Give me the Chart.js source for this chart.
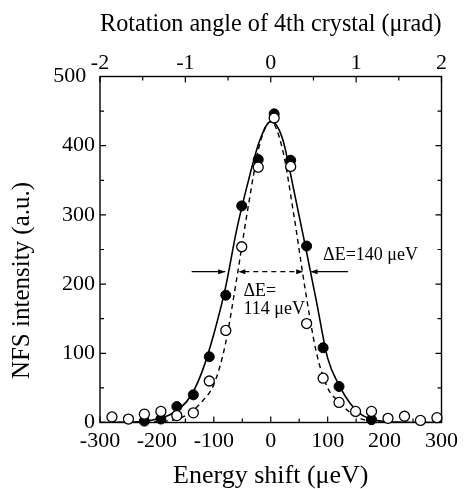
<!DOCTYPE html>
<html>
<head>
<meta charset="utf-8">
<script src="https://cdn.jsdelivr.net/npm/chart.js@4.4.0/dist/chart.umd.min.js"></script>
<style>
  html, body { margin: 0; padding: 0; background: #fff; }
  #wrap { width: 464px; height: 489px; }
</style>
</head>
<body>
<div id="wrap"><canvas id="c" width="464" height="489"></canvas></div>
<script>
// energy grid for the fitted curves (μeV)
const energyGrid = [-300, -280, -260, -240, -220, -200, -180, -160, -140, -120, -100, -80, -60, -40, -20,
  0, 20, 40, 60, 80, 100, 120, 140, 160, 180, 200, 220, 240, 260, 280, 300];
// solid fit (ΔE=140 μeV)
const solidFit = [0, 0, 0.3, 0.7, 2, 5, 10, 20, 39, 75, 128, 193, 278, 347, 406,
  435, 412, 338, 258, 176, 93, 54, 27, 11, 4, 1.5, 0.5, 0, 0, 0, 0];
// dashed fit (ΔE=114 μeV)
const dashedFit = [0, 0, 0, 0, 0.5, 1, 2.5, 6, 15, 31, 55, 112, 207, 310, 400,
  435, 397, 303, 195, 102, 50, 30, 14, 5, 1.5, 0.5, 0, 0, 0, 0, 0];

// measured points
const filledX = [-222, -193, -165, -136, -108, -79, -51, -22, 6, 35, 63, 92, 120, 177];
const filledY = [2, 5, 23, 40, 95, 184, 313, 380, 446, 379, 255, 108, 52, 4];
const openX = [-279, -250, -222, -193, -165, -136, -108, -79, -51, -22, 6, 35, 63, 92, 120, 149, 177, 206, 235, 263, 292];
const openY = [8, 5, 12, 16, 10, 14, 60, 133, 254, 369, 440, 370, 143, 64, 29, 16, 16, 6, 9, 3, 7];

// top axis range (μrad)
const angleMin = -2, angleMax = 2;

// width markers (data coords)
const markerY = 218;
const solidArrowLeft = [-139, -80];
const solidArrowRight = [136, 70];
const dashedArrow = [-57, 57];
const labelWide = { x: 92, y: 242, text: "ΔE=140 μeV" };
const labelNarrow = [{ x: -48, y: 189, text: "ΔE=" }, { x: -48, y: 163, text: "114 μeV" }];
const yTitle = "NFS intensity (a.u.)";

const serif = "'Liberation Serif', 'Times New Roman', serif";
const tickFont = { family: serif, size: 22 };
const titleFont = { family: serif, size: 26, lineHeight: 1 };

const toXY = (xs, ys) => xs.map((x, i) => ({ x, y: ys[i] }));

// frame, inward ticks, y title and the ΔE markers
const framePlugin = {
  id: "frame",
  beforeDatasetsDraw(chart) {
    const { ctx, chartArea: a, scales } = chart;
    ctx.save();
    ctx.strokeStyle = "#000";
    ctx.lineWidth = 1.4;
    ctx.strokeRect(a.left, a.top, a.right - a.left, a.bottom - a.top);
    ctx.lineWidth = 1.2;
    const tickSet = (scale) => {
      const vals = scale.ticks.map(t => t.value);
      const out = [];
      vals.forEach((v, i) => {
        out.push({ p: scale.getPixelForValue(v), major: true });
        if (i < vals.length - 1) out.push({ p: scale.getPixelForValue((v + vals[i + 1]) / 2), major: false });
      });
      return out;
    };
    ctx.beginPath();
    tickSet(scales.x).forEach(t => {
      const l = t.major ? 6 : 4;
      ctx.moveTo(t.p, a.bottom); ctx.lineTo(t.p, a.bottom - l);
    });
    tickSet(scales.xTop).forEach(t => {
      const l = t.major ? 6 : 4;
      ctx.moveTo(t.p, a.top); ctx.lineTo(t.p, a.top + l);
    });
    tickSet(scales.y).forEach(t => {
      const l = t.major ? 6 : 4;
      ctx.moveTo(a.left, t.p); ctx.lineTo(a.left + l, t.p);
      ctx.moveTo(a.right, t.p); ctx.lineTo(a.right - l, t.p);
    });
    ctx.stroke();

    // y axis title, sits a bit below the middle like the original
    ctx.save();
    ctx.translate(22, (a.top + a.bottom) / 2 + 31);
    ctx.rotate(-Math.PI / 2);
    ctx.font = "25px " + serif;
    ctx.fillStyle = "#000";
    ctx.textAlign = "center";
    ctx.textBaseline = "middle";
    ctx.fillText(yTitle, 0, 0);
    ctx.restore();

    // ΔE markers
    const xs = scales.x, ys = scales.y;
    const yy = ys.getPixelForValue(markerY);
    const head = (tip, dir) => {
      ctx.beginPath();
      ctx.moveTo(tip, yy);
      ctx.lineTo(tip - dir * 7, yy - 2.5);
      ctx.lineTo(tip - dir * 7, yy + 2.5);
      ctx.closePath();
      ctx.fill();
    };
    ctx.fillStyle = "#000";
    ctx.lineWidth = 1.2;
    [solidArrowLeft, solidArrowRight].forEach(([from, to]) => {
      const p0 = xs.getPixelForValue(from), p1 = xs.getPixelForValue(to);
      ctx.beginPath(); ctx.moveTo(p0, yy); ctx.lineTo(p1, yy); ctx.stroke();
      head(p1, Math.sign(p1 - p0));
    });
    const d0 = xs.getPixelForValue(dashedArrow[0]), d1 = xs.getPixelForValue(dashedArrow[1]);
    ctx.setLineDash([5, 4]);
    ctx.beginPath(); ctx.moveTo(d0 + 6, yy); ctx.lineTo(d1 - 6, yy); ctx.stroke();
    ctx.setLineDash([]);
    head(d0, -1); head(d1, 1);

    ctx.font = "18px " + serif;
    ctx.textBaseline = "middle";
    ctx.textAlign = "left";
    [labelWide, ...labelNarrow].forEach(l => {
      ctx.fillText(l.text, xs.getPixelForValue(l.x), ys.getPixelForValue(l.y));
    });
    ctx.restore();
  }
};

new Chart(document.getElementById("c"), {
  type: "line",
  data: {
    datasets: [
      {
        label: "open",
        data: toXY(openX, openY),
        showLine: false,
        pointRadius: 5,
        pointBackgroundColor: "#fff",
        pointBorderColor: "#000",
        pointBorderWidth: 1.3,
        clip: false
      },
      {
        label: "filled",
        data: toXY(filledX, filledY),
        showLine: false,
        pointRadius: 5,
        pointBackgroundColor: "#000",
        pointBorderColor: "#000",
        pointBorderWidth: 1,
        clip: false
      },
      {
        label: "fit 140",
        data: toXY(energyGrid, solidFit),
        borderColor: "#000",
        borderWidth: 1.6,
        pointRadius: 0,
        cubicInterpolationMode: "monotone",
        fill: false
      },
      {
        label: "fit 114",
        data: toXY(energyGrid, dashedFit),
        borderColor: "#000",
        borderWidth: 1.4,
        borderDash: [5, 4],
        pointRadius: 0,
        cubicInterpolationMode: "monotone",
        fill: false
      }
    ]
  },
  options: {
    responsive: false,
    animation: false,
    layout: { padding: 0 },
    plugins: { legend: { display: false }, tooltip: { enabled: false } },
    scales: {
      x: {
        type: "linear", position: "bottom", min: -300, max: 300,
        grid: { display: false, drawTicks: false }, border: { display: false },
        ticks: { stepSize: 100, font: tickFont, color: "#000", padding: 6, maxRotation: 0 },
        title: { display: true, text: "Energy shift (μeV)", font: titleFont, color: "#000", padding: { top: 0, bottom: 0 } },
        afterFit: s => { s.height = 66.5; }
      },
      xTop: {
        type: "linear", position: "top", min: angleMin, max: angleMax,
        grid: { display: false, drawTicks: false }, border: { display: false },
        ticks: { stepSize: 1, font: tickFont, color: "#000", padding: 0, maxRotation: 0 },
        title: { display: true, text: "Rotation angle of 4th crystal (μrad)", font: titleFont, color: "#000", padding: { top: 11, bottom: 0 } },
        afterFit: s => { s.height = 76.5; }
      },
      y: {
        type: "linear", position: "left", min: 0, max: 500,
        grid: { display: false, drawTicks: false }, border: { display: false },
        ticks: {
          stepSize: 100, font: tickFont, color: "#000", padding: 5,
          // top label is nudged left in the original so it clears the "-2"
          callback: v => (v === 500 ? v + "\u2009\u2009" : v)
        },
        afterFit: s => { s.width = 100; }
      },
      yRight: {
        type: "linear", position: "right", min: 0, max: 500,
        grid: { display: false, drawTicks: false }, border: { display: false },
        ticks: { display: false },
        afterFit: s => { s.width = 20.5; }
      }
    }
  },
  plugins: [framePlugin]
});
</script>
</body>
</html>
